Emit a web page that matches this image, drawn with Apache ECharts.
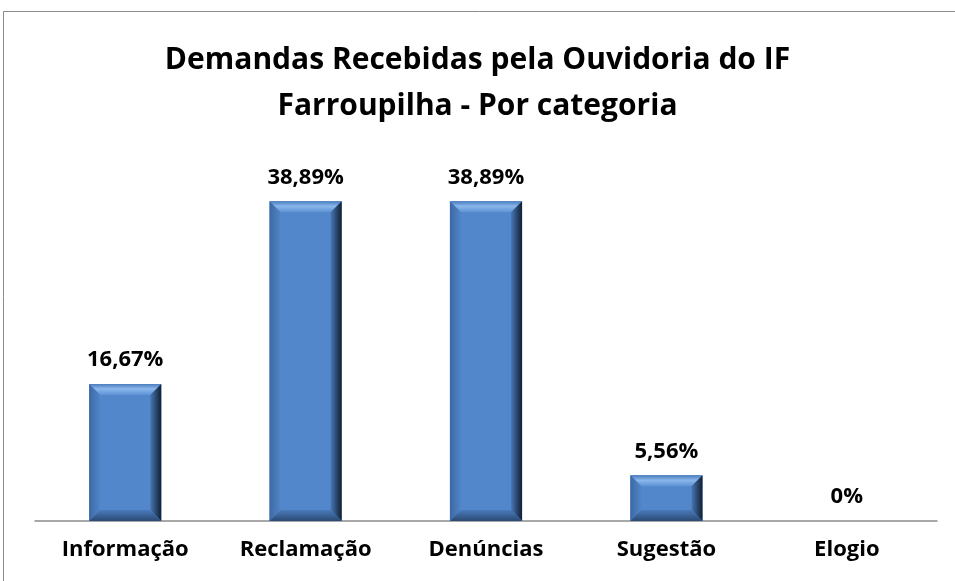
<!DOCTYPE html>
<html>
<head>
<meta charset="utf-8">
<script src="https://cdn.jsdelivr.net/npm/echarts@6/dist/echarts.min.js"></script>
<style>
  html, body { margin: 0; padding: 0; background: #fff; }
  #main { width: 955px; height: 581px; }
</style>
</head>
<body>
<div id="main"></div>
<script>
// dados
var categorias = ['Informação', 'Reclamação', 'Denúncias', 'Sugestão', 'Elogio'];
var percentuais = [16.67, 38.89, 38.89, 5.56, 0];

function rotulo(v) {
  return v === 0 ? '0%' : v.toFixed(2).replace('.', ',') + '%';
}

var myChart = echarts.init(document.getElementById('main'));

// barra com chanfro (estilo Excel)
function renderBevel(params, api) {
  var v = api.value(1);
  var top = api.coord([api.value(0), v]);
  var base = api.coord([api.value(0), 0]);
  var w = api.size([1, 0])[0] * 0.4;
  var x0 = top[0] - w / 2, x1 = top[0] + w / 2;
  var y0 = top[1], y1 = base[1];
  var h = y1 - y0;
  if (h < 1) return null;
  var b = Math.min(11, h / 3, w / 4);
  return {
    type: 'group',
    children: [
      { type: 'rect', shape: { x: x0, y: y0, width: w, height: h }, style: { fill: '#5387cb' } },
      { type: 'polygon', shape: { points: [[x0, y0], [x1, y0], [x1 - b, y0 + b], [x0 + b, y0 + b]] },
        style: { fill: new echarts.graphic.LinearGradient(0, 0, 0, 1, [{ offset: 0, color: '#4a7cbd' }, { offset: 0.45, color: '#8ab7ec' }, { offset: 1, color: '#5d92d4' }]) } },
      { type: 'polygon', shape: { points: [[x0, y0], [x0 + b, y0 + b], [x0 + b, y1 - b], [x0, y1]] },
        style: { fill: new echarts.graphic.LinearGradient(0, 0, 1, 0, [{ offset: 0, color: '#3d69a3' }, { offset: 1, color: '#5085c8' }]) } },
      { type: 'polygon', shape: { points: [[x1, y0], [x1, y1], [x1 - b, y1 - b], [x1 - b, y0 + b]] },
        style: { fill: new echarts.graphic.LinearGradient(0, 0, 1, 0, [{ offset: 0, color: '#4777b4' }, { offset: 1, color: '#111f33' }]) } },
      { type: 'polygon', shape: { points: [[x0, y1], [x0 + b, y1 - b], [x1 - b, y1 - b], [x1, y1]] },
        style: { fill: new echarts.graphic.LinearGradient(0, 0, 0, 1, [{ offset: 0, color: '#4a7aba' }, { offset: 1, color: '#2a4a74' }]) } }
    ]
  };
}

myChart.setOption({
  animation: false,
  title: {
    text: 'Demandas Recebidas pela Ouvidoria do IF\nFarroupilha - Por categoria',
    left: 'center',
    top: 32,
    textStyle: { fontFamily: 'Open Sans', fontSize: 30, fontWeight: 'bold', color: '#000', lineHeight: 46 }
  },
  graphic: [{
    type: 'rect',
    silent: true,
    shape: { x: 3.5, y: 11.5, width: 1000, height: 1000 },
    style: { fill: 'none', stroke: '#8c8c8c', lineWidth: 1 }
  }],
  grid: { left: 35, right: 18, top: 151, bottom: 60 },
  xAxis: {
    type: 'category',
    data: categorias,
    axisTick: { show: false },
    axisLine: { lineStyle: { color: '#8c8c8c', width: 1.5 } },
    axisLabel: { fontFamily: 'Open Sans', fontSize: 22, fontWeight: 'bold', color: '#000', margin: 18 }
  },
  yAxis: { type: 'value', min: 0, max: 45, show: false, splitLine: { show: false } },
  series: [
    {
      type: 'bar',
      data: percentuais,
      barWidth: '40%',
      itemStyle: { color: 'rgba(0,0,0,0)' },
      label: {
        show: true, position: 'top', distance: 13,
        fontFamily: 'Open Sans', fontSize: 22, fontWeight: 'bold', color: '#000',
        formatter: function (p) { return rotulo(p.value); }
      },
      z: 3
    },
    {
      type: 'custom',
      renderItem: renderBevel,
      data: percentuais.map(function (v, i) { return [i, v]; }),
      encode: { x: 0, y: 1 },
      z: 2
    }
  ]
});
</script>
</body>
</html>
